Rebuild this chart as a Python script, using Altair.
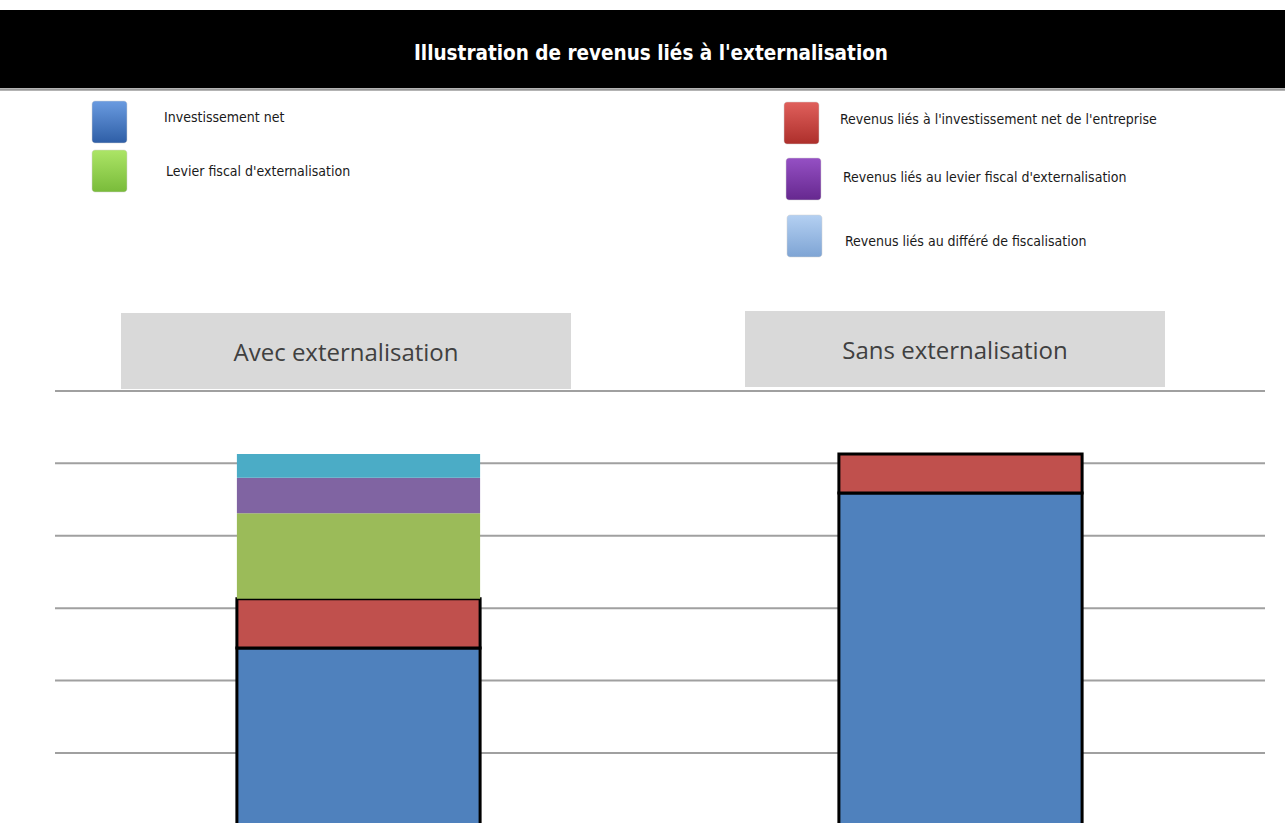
import altair as alt
import pandas as pd

# ---------------- data ----------------
title_text = "Illustration de revenus liés à l'externalisation"
categories = ["Avec externalisation", "Sans externalisation"]
series = [
    "Investissement net",
    "Revenus liés à l'investissement net de l'entreprise",
    "Levier fiscal d'externalisation",
    "Revenus liés au levier fiscal d'externalisation",
    "Revenus liés au différé de fiscalisation",
]
bar_colors = ["#4f81bd", "#c0504d", "#9bbb59", "#8064a2", "#4bacc6"]
values_avec = [2.45, 0.68, 1.18, 0.49, 0.33]
values_sans = [4.59, 0.54, 0.0, 0.0, 0.0]
grid_values = [1, 2, 3, 4, 5, 6]

legend_left = ["Investissement net", "Levier fiscal d'externalisation"]
legend_left_colors = [("#6a9be0", "#2e5ea6"), ("#ace566", "#79bb3a")]
legend_right = [
    "Revenus liés à l'investissement net de l'entreprise",
    "Revenus liés au levier fiscal d'externalisation",
    "Revenus liés au différé de fiscalisation",
]
legend_right_colors = [("#e0605c", "#ad2f2b"), ("#9550c4", "#66288f"), ("#b4d0f2", "#7ea4d4")]

# ---------------- build table ----------------
rows = []
for cat, vals in zip(categories, [values_avec, values_sans]):
    acc = 0.0
    for s, v in zip(series, vals):
        if v > 0:
            rows.append({"cat": cat, "serie": s, "start": acc, "end": acc + v})
            acc += v
bars_df = pd.DataFrame(rows)
grid_df = pd.DataFrame({"v": grid_values})

W, H = 1285, 823
yscale = alt.Scale(domain=[0, 6], range=[825.4, 390.9])
xscale = alt.Scale(domain=categories, range=[57.5, 1261.5], paddingInner=0.596, paddingOuter=0.298)

grid = alt.Chart(grid_df).mark_rule(color="#a0a0a0", strokeWidth=2).encode(
    y=alt.Y("v:Q", scale=yscale, axis=None),
    x=alt.value(55), x2=alt.value(1265),
)

outlined = series[:2]
bars = alt.Chart(bars_df).mark_bar(stroke="black", clip=True).encode(
    x=alt.X("cat:N", scale=xscale, axis=None, sort=categories),
    y=alt.Y("start:Q", scale=yscale, axis=None),
    y2="end:Q",
    color=alt.Color("serie:N", scale=alt.Scale(domain=series, range=bar_colors), legend=None),
    strokeWidth=alt.condition(
        alt.FieldOneOfPredicate(field="serie", oneOf=outlined), alt.value(3), alt.value(0)
    ),
)

one = pd.DataFrame({"a": [0]})

layers = [grid, bars]

# title bar
layers.append(alt.Chart(one).mark_rect(color="black").encode(
    x=alt.value(0), x2=alt.value(W), y=alt.value(10), y2=alt.value(88)))
layers.append(alt.Chart(one).mark_rule(color="#9a9a9a", strokeWidth=2.5).encode(
    x=alt.value(0), x2=alt.value(W), y=alt.value(89.5)))
layers.append(alt.Chart(pd.DataFrame({"t": [title_text]})).mark_text(
    color="white", font="DejaVu Sans Condensed", fontWeight="bold", fontSize=20.5,
    align="center", baseline="middle").encode(
    text="t:N", x=alt.value(651), y=alt.value(54)))

# panel headers
header_boxes = [(121, 571, 313, 389, 346, 354), (745, 1165, 311, 387, 955, 352)]
for cat, (x0, x1, y0, y1, tx, ty) in zip(categories, header_boxes):
    layers.append(alt.Chart(one).mark_rect(color="#d9d9d9").encode(
        x=alt.value(x0), x2=alt.value(x1), y=alt.value(y0), y2=alt.value(y1)))
    layers.append(alt.Chart(pd.DataFrame({"t": [cat]})).mark_text(
        color="#404040", font="Open Sans", fontSize=24, align="center", baseline="middle").encode(
        text="t:N", x=alt.value(tx), y=alt.value(ty)))

# legend
def swatch(x0, y0, cols):
    grad = alt.Gradient(gradient="linear", x1=0, x2=0, y1=0, y2=1,
                        stops=[alt.GradientStop(color=cols[0], offset=0),
                               alt.GradientStop(color=cols[1], offset=1)])
    return alt.Chart(one).mark_rect(fill=grad, cornerRadius=3, stroke="#d0d0d0", strokeWidth=0.5).encode(
        x=alt.value(x0), x2=alt.value(x0 + 35), y=alt.value(y0), y2=alt.value(y0 + 42))

def label(txt, x, y):
    return alt.Chart(pd.DataFrame({"t": [txt]})).mark_text(
        color="#1a1a1a", font="DejaVu Sans Condensed", fontSize=14, align="left", baseline="middle").encode(
        text="t:N", x=alt.value(x), y=alt.value(y))

left_pos = [(92, 101, 164, 118), (92, 150, 166, 172)]
for txt, cols, (sx, sy, tx, ty) in zip(legend_left, legend_left_colors, left_pos):
    layers += [swatch(sx, sy, cols), label(txt, tx, ty)]
right_pos = [(784, 102, 840, 120), (786, 158, 843, 178), (787, 215, 845, 242)]
for txt, cols, (sx, sy, tx, ty) in zip(legend_right, legend_right_colors, right_pos):
    layers += [swatch(sx, sy, cols), label(txt, tx, ty)]

chart = alt.layer(*layers).properties(
    width=W, height=H, padding=0, autosize=alt.AutoSizeParams(type="none"),
    background="white",
).configure_view(stroke=None)

chart.save("out.html", embed_options={"renderer": "svg", "actions": False})
